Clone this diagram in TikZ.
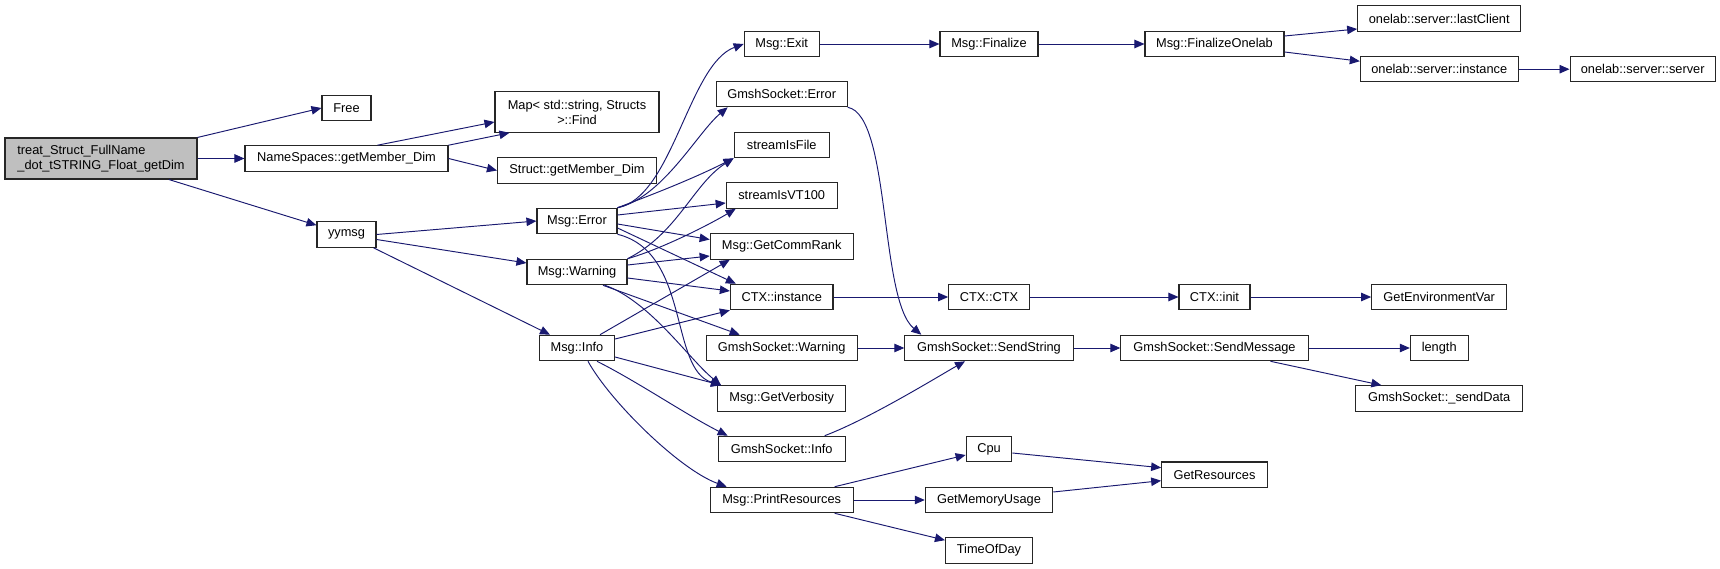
\documentclass[tikz,border=0pt]{standalone}
\usepackage{fontspec}
\setmainfont{Liberation Sans}
\usetikzlibrary{arrows.meta}
\definecolor{calledge}{HTML}{191970}
\definecolor{rootgray}{HTML}{BFBFBF}
\tikzset{
    fn/.style={
        rectangle,
        draw=black!85,
        fill=white,
        line width=1.1pt,
        inner sep=0pt,
        minimum height=25.5pt,
        font=\fontsize{12.8}{15}\selectfont
    },
    rootfn/.style={fn, fill=rootgray, minimum height=41pt, align=left},
    twoline/.style={fn, minimum height=40.5pt, align=center},
    call/.style={
        -{Triangle[length=10pt,width=8.5pt]},
        draw=calledge,
        line width=0.95pt
    }
}

\begin{document}
\begin{tikzpicture}[x=1pt, y=-1pt]
        \fill[white] (0,0) rectangle (1720,569);

        % Nodes, column by column
        \node (root) [rootfn, minimum width=192pt] at (101,158.5) {treat\_Struct\_FullName\\\_dot\_tSTRING\_Float\_getDim};

        \node (free) [fn, minimum width=49pt] at (346.5,108) {Free};
        \node (nsdim) [fn, minimum width=203pt] at (346.5,158.5) {NameSpaces::getMember\_Dim};
        \node (yymsg) [fn, minimum width=59pt] at (346.5,234.5) {yymsg};

        \node (mapfind) [twoline, minimum width=164pt] at (577,112) {Map< std::string, Structs\\>::Find};
        \node (stdim) [fn, minimum width=159pt] at (577,170.5) {Struct::getMember\_Dim};
        \node (merr) [fn, minimum width=80pt] at (577,221) {Msg::Error};
        \node (mwarn) [fn, minimum width=100pt] at (577,272) {Msg::Warning};
        \node (minfo) [fn, minimum width=75pt] at (577,348) {Msg::Info};

        \node (mexit) [fn, minimum width=75pt] at (781.7,44) {Msg::Exit};
        \node (gserr) [fn, minimum width=131pt] at (781.7,94) {GmshSocket::Error};
        \node (sfile) [fn, minimum width=95pt] at (781.7,145) {streamIsFile};
        \node (svt) [fn, minimum width=111pt] at (781.7,195.5) {streamIsVT100};
        \node (crank) [fn, minimum width=143pt] at (781.7,246.5) {Msg::GetCommRank};
        \node (ctxi) [fn, minimum width=102.6pt] at (781.7,297) {CTX::instance};
        \node (gswarn) [fn, minimum width=151pt] at (781.7,348) {GmshSocket::Warning};
        \node (mverb) [fn, minimum width=128.3pt] at (781.7,398.5) {Msg::GetVerbosity};
        \node (gsinfo) [fn, minimum width=127pt] at (781.7,449) {GmshSocket::Info};
        \node (mpres) [fn, minimum width=143pt] at (781.7,500) {Msg::PrintResources};

        \node (mfin) [fn, minimum width=98pt] at (989,44) {Msg::Finalize};
        \node (ctxc) [fn, minimum width=80.6pt] at (989,297) {CTX::CTX};
        \node (gssend) [fn, minimum width=168.3pt] at (989,348) {GmshSocket::SendString};
        \node (cpu) [fn, minimum width=45.7pt] at (989,449) {Cpu};
        \node (gmem) [fn, minimum width=127.4pt] at (989,500) {GetMemoryUsage};
        \node (tod) [fn, minimum width=87pt] at (989,550.5) {TimeOfDay};

        \node (mfone) [fn, minimum width=139pt] at (1214.5,44) {Msg::FinalizeOnelab};
        \node (ctxinit) [fn, minimum width=71pt] at (1214.5,297) {CTX::init};
        \node (gsmsg) [fn, minimum width=187.3pt] at (1214.5,348) {GmshSocket::SendMessage};
        \node (gres) [fn, minimum width=105.6pt] at (1214.5,474.7) {GetResources};

        \node (olast) [fn, minimum width=163pt] at (1439.2,18.5) {onelab::server::lastClient};
        \node (oinst) [fn, minimum width=157.7pt] at (1439.2,69.2) {onelab::server::instance};
        \node (genv) [fn, minimum width=135pt] at (1439.2,297) {GetEnvironmentVar};
        \node (len) [fn, minimum width=57.7pt] at (1439.2,348) {length};
        \node (gsdata) [fn, minimum width=166.6pt] at (1439.2,398.5) {GmshSocket::\_sendData};

        \node (osrv) [fn, minimum width=145.3pt] at (1642.7,69.2) {onelab::server::server};

        % Calls from the root
        \draw[call] (root.north east) -- (free.west);
        \draw[call] (root.east) -- (nsdim.west);
        \draw[call] (root) -- (yymsg);

        % NameSpaces
        \draw[call] ([xshift=31pt]nsdim.north) -- ([yshift=-10pt]mapfind.west);
        \draw[call] (nsdim.north east) -- ([xshift=15pt]mapfind.south west);
        \draw[call] (nsdim.east) -- (stdim.west);

        % yymsg
        \draw[call] (yymsg.east) -- (merr.west);
        \draw[call] ([yshift=-5pt]yymsg.east) -- ([yshift=9pt]mwarn.west);
        \draw[call] (yymsg) -- (minfo);

        % Msg::Error
        \draw[call] (merr.north east) .. controls +(55,-10) and +(-55,20) .. (mexit.west);
        \draw[call] (merr.north east) .. controls +(45,-10) and +(-30,25) .. ([xshift=12pt]gserr.south west);
        \draw[call] (merr.north east) .. controls +(40,-15) and +(-40,20) .. (sfile.south west);
        \draw[call] ([yshift=6pt]merr.east) -- ([yshift=-7.5pt]svt.west);
        \draw[call] ([yshift=-3pt]merr.east) -- ([yshift=7pt]crank.west);
        \draw[call] ([yshift=-7pt]merr.east) -- ([xshift=6pt]ctxi.north west);
        \draw[call] (merr.south east) .. controls +(73,18) and +(-52,-16) .. ([xshift=4pt]mverb.north west);

        % Msg::Warning
        \draw[call] (mwarn.north east) .. controls +(50,-25) and +(-40,25) .. (sfile.south west);
        \draw[call] (mwarn.north east) .. controls +(35,-10) and +(-25,15) .. ([xshift=10pt]svt.south west);
        \draw[call] ([yshift=7pt]mwarn.east) -- ([yshift=-9.5pt]crank.west);
        \draw[call] ([yshift=-6pt]mwarn.east) -- ([yshift=6pt]ctxi.west);
        \draw[call] ([xshift=26pt]mwarn.south) -- ([xshift=34pt]gswarn.north west);
        \draw[call] ([xshift=28pt]mwarn.south) .. controls +(45,16) and +(-32,-26) .. ([xshift=4pt]mverb.north west);

        % Msg::Info
        \draw[call] ([xshift=23pt]minfo.north) -- ([xshift=-52pt]crank.south);
        \draw[call] ([yshift=9pt]minfo.east) -- (ctxi.south west);
        \draw[call] ([yshift=-9pt]minfo.east) -- ([xshift=4pt]mverb.north west);
        \draw[call] ([xshift=20pt]minfo.south) .. controls +(40,20) and +(-40,-20) .. ([xshift=10pt]gsinfo.north west);
        \draw[call] ([xshift=11pt]minfo.south) .. controls +(22,40) and +(-47,-17) .. ([xshift=17pt]mpres.north west);

        % Socket messages
        \draw[call] (gserr.south east) .. controls +(43,8) and +(-42,-35) .. ([xshift=17pt]gssend.north west);
        \draw[call] (gswarn.east) -- (gssend.west);
        \draw[call] ([xshift=43pt]gsinfo.north) .. controls +(45,-17) and +(-25,14) .. ([xshift=-24pt]gssend.south);
        \draw[call] (gssend.east) -- (gsmsg.west);
        \draw[call] (gsmsg.east) -- (len.west);
        \draw[call] ([xshift=56pt]gsmsg.south) -- ([xshift=26pt]gsdata.north west);

        % Context
        \draw[call] (ctxi.east) -- (ctxc.west);
        \draw[call] (ctxc.east) -- (ctxinit.west);
        \draw[call] (ctxinit.east) -- (genv.west);

        % Exit chain
        \draw[call] (mexit.east) -- (mfin.west);
        \draw[call] (mfin.east) -- (mfone.west);
        \draw[call] ([yshift=8pt]mfone.east) -- ([yshift=-10.5pt]olast.west);
        \draw[call] ([yshift=-8pt]mfone.east) -- ([yshift=8pt]oinst.west);
        \draw[call] (oinst.east) -- (osrv.west);

        % Resources
        \draw[call] ([xshift=53pt]mpres.north) -- ([yshift=-6pt]cpu.west);
        \draw[call] (mpres.east) -- (gmem.west);
        \draw[call] ([xshift=53pt]mpres.south) -- ([yshift=-3pt]tod.north west);
        \draw[call] ([yshift=-4pt]cpu.east) -- ([yshift=7pt]gres.west);
        \draw[call] ([yshift=8pt]gmem.east) -- ([yshift=-6pt]gres.west);
    \end{tikzpicture}
\end{document}
